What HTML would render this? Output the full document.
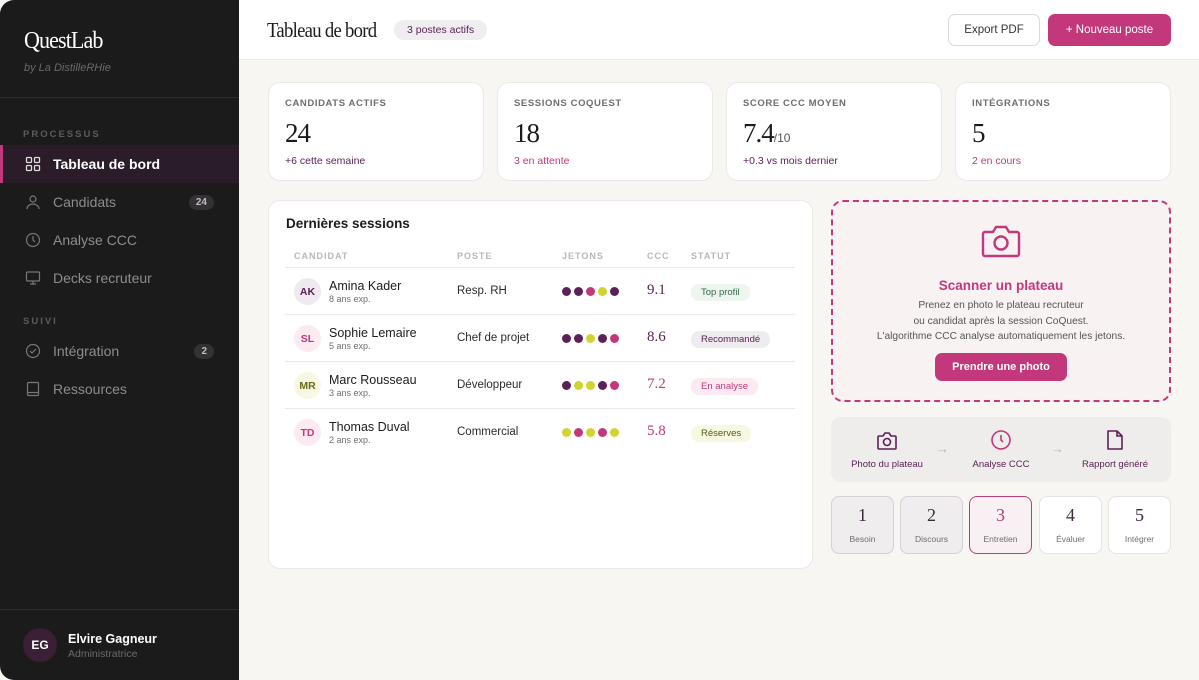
<!DOCTYPE html>
<html><head><meta charset="utf-8"><style>
*{box-sizing:border-box;margin:0;padding:0}
body{width:1199px;height:680px;overflow:hidden;background:#f7f6f3;font-family:"Liberation Sans",sans-serif;position:relative;color:#1c1b1c}
.a{position:absolute}
.serif{font-family:"Liberation Serif",serif}
#side{left:0;top:0;width:239px;height:680px;background:#1c1b1c;border-radius:14px 0 0 14px}
.nav{position:absolute;left:0;width:239px;height:38px;font-size:14px;color:#8e8c8e;display:flex;align-items:center;padding-left:53px}
.nav svg{position:absolute;left:25px;top:11px}
.badge{position:absolute;right:25px;top:12px;background:#333133;color:#bdbbbd;font-size:10px;font-weight:bold;border-radius:8px;padding:2px 7px}
.sec{position:absolute;left:23px;font-size:9.5px;font-weight:bold;letter-spacing:2px;color:#5c5a5c}
.card{position:absolute;background:#fff;border:1px solid #ebe9e6;border-radius:12px}
.lbl{position:absolute;left:16px;top:15px;font-size:9.5px;font-weight:bold;letter-spacing:.6px;color:#6f6d6f}
.big{position:absolute;left:16px;top:35px;font-size:27px;font-family:"Liberation Serif",serif;color:#1c1b1c;letter-spacing:-1px}
.sub{position:absolute;left:16px;top:72px;font-size:10.5px}
.th{position:absolute;top:251px;font-size:9px;font-weight:bold;letter-spacing:1px;color:#b9b7b5}
.hr{position:absolute;left:285px;width:510px;height:1px;background:#ebe9e6}
.av{position:absolute;left:294px;width:27px;height:27px;border-radius:50%;font-size:10.5px;font-weight:bold;display:flex;align-items:center;justify-content:center}
.nm{position:absolute;left:329px;font-size:12.5px;color:#1c1b1c}
.ex{position:absolute;left:329px;font-size:9px;color:#6f6d6f}
.po{position:absolute;left:457px;font-size:11.5px;color:#2a2a2a}
.dots{position:absolute;left:562px;display:flex;gap:3px}
.dots i{width:9px;height:9px;border-radius:50%;display:block}
.p{background:#5a2156}.k{background:#c2387a}.l{background:#cfd430}
.cc{position:absolute;left:647px;font-family:"Liberation Serif",serif;font-size:15px}
.st{position:absolute;left:691px;font-size:9.5px;border-radius:8px;padding:3px 10px}
.step{position:absolute;top:496px;width:63px;height:58px;border-radius:8px;border:1px solid #e6e3e0;background:#fff;text-align:center}
.step b{display:block;font-family:"Liberation Serif",serif;font-weight:normal;font-size:18px;margin-top:8px;color:#3a2a3a}
.step span{display:block;font-size:8.5px;color:#6f6d6f;margin-top:8px}
</style></head><body>
<div id="side" class="a">
<div class="a serif" style="left:24px;top:28px;font-size:24px;color:#fff;letter-spacing:-1px;transform:scaleX(.92);transform-origin:left">QuestLab</div>
<div class="a" style="left:24px;top:62px;font-size:11px;font-style:italic;color:#6b696b">by La DistilleRHie</div>
<div class="a" style="left:0;top:97px;width:239px;height:1px;background:#2e2c2e"></div>
<div class="sec" style="top:129px">PROCESSUS</div>
<div class="nav" style="top:145px;background:#2b1c29;color:#fff;font-weight:bold"><div class="a" style="left:0;top:0;width:3px;height:38px;background:#c2387a"></div><svg width="16" height="16" viewBox="0 0 16 16" fill="none" stroke="#ddd" stroke-width="1.3"><rect x="1.5" y="1.5" width="5" height="5" rx="1"/><rect x="9.5" y="1.5" width="5" height="5" rx="1"/><rect x="1.5" y="9.5" width="5" height="5" rx="1"/><rect x="9.5" y="9.5" width="5" height="5" rx="1"/></svg>Tableau de bord</div>
<div class="nav" style="top:183px"><svg width="16" height="16" viewBox="0 0 16 16" fill="none" stroke="#777" stroke-width="1.2"><circle cx="8" cy="5" r="3"/><path d="M2 15c0-3 3-5 6-5s6 2 6 5"/></svg>Candidats<span class="badge">24</span></div>
<div class="nav" style="top:221px"><svg width="16" height="16" viewBox="0 0 16 16" fill="none" stroke="#777" stroke-width="1.2"><circle cx="8" cy="8" r="6.5"/><path d="M8 4v4l2 2"/></svg>Analyse CCC</div>
<div class="nav" style="top:259px"><svg width="16" height="16" viewBox="0 0 16 16" fill="none" stroke="#777" stroke-width="1.2"><rect x="1.5" y="2" width="13" height="9" rx="1"/><path d="M8 11v3M5 14h6"/></svg>Decks recruteur</div>
<div class="sec" style="top:316px">SUIVI</div>
<div class="nav" style="top:332px"><svg width="16" height="16" viewBox="0 0 16 16" fill="none" stroke="#777" stroke-width="1.2"><circle cx="8" cy="8" r="6.5"/><path d="M5 8l2 2 4-4"/></svg>Intégration<span class="badge">2</span></div>
<div class="nav" style="top:370px"><svg width="16" height="16" viewBox="0 0 16 16" fill="none" stroke="#777" stroke-width="1.2"><rect x="2.5" y="1.5" width="11" height="13" rx="1"/><path d="M2.5 11.5h11"/></svg>Ressources</div>
<div class="a" style="left:0;top:609px;width:239px;height:1px;background:#2e2c2e"></div>
<div class="a" style="left:23px;top:628px;width:34px;height:34px;border-radius:50%;background:#3a1f36;color:#fff;font-size:12px;font-weight:bold;display:flex;align-items:center;justify-content:center">EG</div>
<div class="a" style="left:68px;top:632px;font-size:12.5px;font-weight:bold;color:#fff">Elvire Gagneur</div>
<div class="a" style="left:68px;top:648px;font-size:10.5px;color:#6b696b">Administratrice</div>
</div>
<div class="a" style="left:239px;top:0;width:960px;height:60px;background:#fff;border-bottom:1px solid #ebe9e6"></div>
<div class="a serif" style="left:267px;top:18px;font-size:21px;letter-spacing:-.8px;transform:scaleX(.89);transform-origin:left;white-space:nowrap">Tableau de bord</div>
<div class="a" style="left:394px;top:20px;height:20px;padding:0 13px;border-radius:10px;background:#f0edf0;color:#5a2156;font-size:10.5px;line-height:20px">3 postes actifs</div>
<div class="a" style="left:948px;top:14px;width:92px;height:32px;border:1px solid #dcd9d6;border-radius:7px;font-size:11.5px;color:#333;text-align:center;line-height:30px;background:#fff">Export PDF</div>
<div class="a" style="left:1048px;top:14px;width:123px;height:32px;border-radius:7px;background:#c2387a;color:#fff;font-size:11.5px;text-align:center;line-height:32px">+ Nouveau poste</div>

<div class="card" style="left:268px;top:82px;width:216px;height:99px"><div class="lbl">CANDIDATS ACTIFS</div><div class="big">24</div><div class="sub" style="color:#5a2156">+6 cette semaine</div></div>
<div class="card" style="left:497px;top:82px;width:216px;height:99px"><div class="lbl">SESSIONS COQUEST</div><div class="big">18</div><div class="sub" style="color:#c2387a">3 en attente</div></div>
<div class="card" style="left:726px;top:82px;width:216px;height:99px"><div class="lbl">SCORE CCC MOYEN</div><div class="big">7.4<span style="font-family:'Liberation Sans',sans-serif;font-size:12px;color:#555;letter-spacing:0">/10</span></div><div class="sub" style="color:#5a2156">+0.3 vs mois dernier</div></div>
<div class="card" style="left:955px;top:82px;width:216px;height:99px"><div class="lbl">INTÉGRATIONS</div><div class="big">5</div><div class="sub" style="color:#c2387a">2 en cours</div></div>

<div class="card" style="left:268px;top:200px;width:545px;height:369px"></div>
<div class="a" style="left:286px;top:216px;font-size:13.5px;font-weight:bold;color:#1c1b1c">Dernières sessions</div>
<div class="th" style="left:294px">CANDIDAT</div><div class="th" style="left:457px">POSTE</div><div class="th" style="left:562px">JETONS</div><div class="th" style="left:647px">CCC</div><div class="th" style="left:691px">STATUT</div>
<div class="hr" style="top:267px"></div><div class="hr" style="top:314px"></div><div class="hr" style="top:361px"></div><div class="hr" style="top:408px"></div>

<div class="av" style="top:278px;background:#efeaef;color:#5a2156">AK</div><div class="nm" style="top:279px">Amina Kader</div><div class="ex" style="top:294px">8 ans exp.</div><div class="po" style="top:285px">Resp. RH</div>
<div class="dots" style="top:287px"><i class="p"></i><i class="p"></i><i class="k"></i><i class="l"></i><i class="p"></i></div><div class="cc" style="top:282px;color:#5a2156">9.1</div><div class="st" style="top:284px;background:#eef5ef;color:#2f6b45">Top profil</div>

<div class="av" style="top:325px;background:#fbeaf2;color:#c2387a">SL</div><div class="nm" style="top:326px">Sophie Lemaire</div><div class="ex" style="top:341px">5 ans exp.</div><div class="po" style="top:332px">Chef de projet</div>
<div class="dots" style="top:334px"><i class="p"></i><i class="p"></i><i class="l"></i><i class="p"></i><i class="k"></i></div><div class="cc" style="top:329px;color:#5a2156">8.6</div><div class="st" style="top:331px;background:#efecef;color:#5a2156">Recommandé</div>

<div class="av" style="top:372px;background:#f7f8e4;color:#6b6b1a">MR</div><div class="nm" style="top:373px">Marc Rousseau</div><div class="ex" style="top:388px">3 ans exp.</div><div class="po" style="top:379px">Développeur</div>
<div class="dots" style="top:381px"><i class="p"></i><i class="l"></i><i class="l"></i><i class="p"></i><i class="k"></i></div><div class="cc" style="top:376px;color:#c2387a">7.2</div><div class="st" style="top:378px;background:#fbeaf2;color:#c2387a">En analyse</div>

<div class="av" style="top:419px;background:#fbeaf2;color:#c2387a">TD</div><div class="nm" style="top:420px">Thomas Duval</div><div class="ex" style="top:435px">2 ans exp.</div><div class="po" style="top:426px">Commercial</div>
<div class="dots" style="top:428px"><i class="l"></i><i class="k"></i><i class="l"></i><i class="k"></i><i class="l"></i></div><div class="cc" style="top:423px;color:#c2387a">5.8</div><div class="st" style="top:425px;background:#f6f8e2;color:#55571a">Réserves</div>

<div class="a" style="left:831px;top:200px;width:340px;height:202px;border:2px dashed #c2387a;border-radius:12px;background:#f8f2f3"></div>
<svg class="a" style="left:980px;top:224px" width="42" height="36" viewBox="0 0 42 36" fill="none" stroke="#c2387a" stroke-width="2.4"><path d="M3 10a2 2 0 0 1 2-2h8l3-5h10l3 5h8a2 2 0 0 1 2 2v20a2 2 0 0 1-2 2H5a2 2 0 0 1-2-2z" stroke-linejoin="round"/><circle cx="21" cy="19" r="6.5"/></svg>
<div class="a" style="left:831px;top:278px;width:340px;text-align:center;font-size:13.5px;font-weight:bold;color:#c2387a">Scanner un plateau</div>
<div class="a" style="left:831px;top:298px;width:340px;text-align:center;font-size:10.2px;line-height:15.5px;color:#555">Prenez en photo le plateau recruteur<br>ou candidat après la session CoQuest.<br>L'algorithme CCC analyse automatiquement les jetons.</div>
<div class="a" style="left:935px;top:353px;width:132px;height:28px;border-radius:7px;background:#c2387a;color:#fff;font-size:11px;font-weight:bold;text-align:center;line-height:28px">Prendre une photo</div>

<div class="a" style="left:831px;top:417px;width:340px;height:65px;border-radius:10px;background:#efedec"></div>
<svg class="a" style="left:876px;top:431px" width="22" height="20" viewBox="0 0 22 20" fill="none" stroke="#5a2156" stroke-width="1.6"><path d="M2 6a1 1 0 0 1 1-1h4l2-3h4l2 3h4a1 1 0 0 1 1 1v11a1 1 0 0 1-1 1H3a1 1 0 0 1-1-1z" stroke-linejoin="round"/><circle cx="11" cy="11" r="3.5"/></svg>
<div class="a" style="left:838px;top:459px;width:98px;text-align:center;font-size:9.5px;color:#5a2156">Photo du plateau</div>
<div class="a" style="left:936px;top:441px;font-size:13px;color:#b9b7b5">→</div>
<svg class="a" style="left:990px;top:429px" width="22" height="22" viewBox="0 0 22 22" fill="none" stroke="#c2387a" stroke-width="1.6"><circle cx="11" cy="11" r="9"/><path d="M11 6v5l2 2"/></svg>
<div class="a" style="left:952px;top:459px;width:98px;text-align:center;font-size:9.5px;color:#5a2156">Analyse CCC</div>
<div class="a" style="left:1051px;top:441px;font-size:13px;color:#b9b7b5">→</div>
<svg class="a" style="left:1105px;top:429px" width="20" height="22" viewBox="0 0 20 22" fill="none" stroke="#5a2156" stroke-width="1.6"><path d="M3 2h9l5 5v13H3z" stroke-linejoin="round"/><path d="M12 2v5h5"/></svg>
<div class="a" style="left:1066px;top:459px;width:98px;text-align:center;font-size:9.5px;color:#5a2156">Rapport généré</div>

<div class="step" style="left:831px;background:#efedee;border-color:#d6cfd5"><b>1</b><span>Besoin</span></div>
<div class="step" style="left:900px;background:#efedee;border-color:#d6cfd5"><b>2</b><span>Discours</span></div>
<div class="step" style="left:969px;background:#f8f0f2;border:1.5px solid #b8407a"><b style="color:#c2387a">3</b><span>Entretien</span></div>
<div class="step" style="left:1039px"><b>4</b><span>Évaluer</span></div>
<div class="step" style="left:1108px"><b>5</b><span>Intégrer</span></div>
</body></html>
